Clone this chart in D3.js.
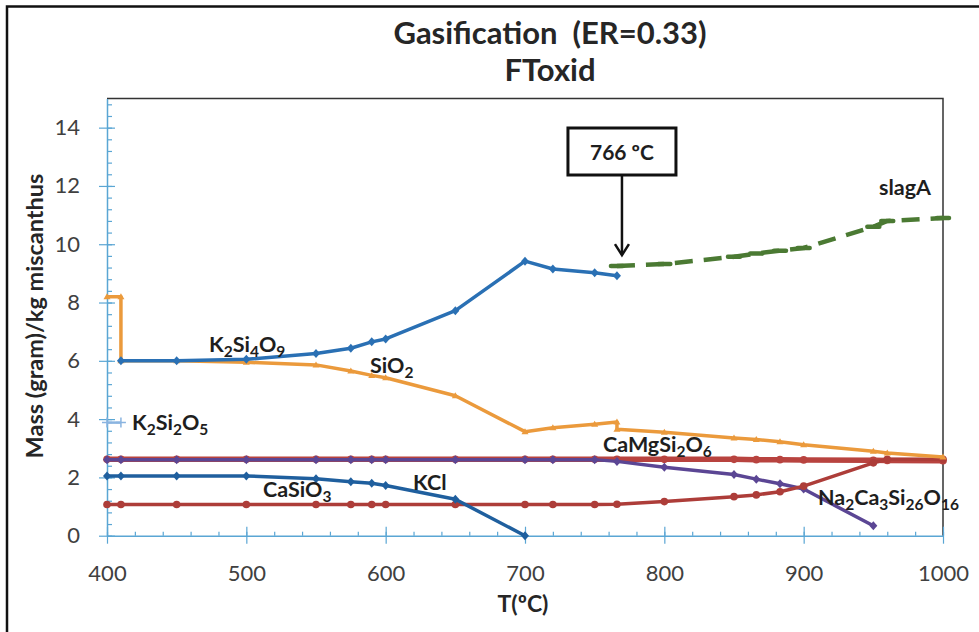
<!DOCTYPE html>
<html><head><meta charset="utf-8">
<script src="https://cdn.jsdelivr.net/npm/d3@7"></script>
<style>
body{margin:0;background:#fff}
text{font-family:Lato,"Open Sans",sans-serif}
</style>
</head><body>
<svg id="c" width="979" height="632"></svg>
<script>
// ---------- data ----------
const xTicks = [400, 500, 600, 700, 800, 900, 1000];
const yTicks = [0, 2, 4, 6, 8, 10, 12, 14];

const tSiO2 = [400, 410, 410, 450, 500, 550, 575, 590, 600, 650, 700, 720, 750, 766, 766, 800, 850, 866, 883, 900, 950, 960, 1000];
const vSiO2 = [8.2, 8.2, 6.0, 6.0, 5.95, 5.86, 5.65, 5.5, 5.42, 4.8, 3.57, 3.7, 3.82, 3.9, 3.65, 3.55, 3.35, 3.3, 3.22, 3.12, 2.9, 2.84, 2.7];

const tK2Si4O9 = [410, 450, 500, 550, 575, 590, 600, 650, 700, 720, 750, 766];
const vK2Si4O9 = [6.0, 6.0, 6.05, 6.25, 6.43, 6.65, 6.75, 7.72, 9.42, 9.15, 9.02, 8.92];

const tSlagA = [766, 800, 850, 866, 883, 900, 950, 960, 1000];
const vSlagA = [9.25, 9.32, 9.57, 9.68, 9.78, 9.87, 10.6, 10.8, 10.9];

const tK2Si2O5 = [400, 410];
const vK2Si2O5 = [3.88, 3.88];

const tCaMgSi2O6 = [400, 410, 450, 500, 550, 575, 590, 600, 650, 700, 720, 750, 766, 800, 850, 866, 883, 900, 950, 960, 1000];
const vCaMgSi2O6 = [2.62, 2.62, 2.62, 2.62, 2.62, 2.62, 2.62, 2.62, 2.62, 2.62, 2.62, 2.62, 2.62, 2.62, 2.62, 2.61, 2.61, 2.6, 2.59, 2.58, 2.57];

const tNa2Ca3 = [400, 410, 450, 500, 550, 575, 590, 600, 650, 700, 720, 750, 766, 800, 850, 866, 883, 900, 950];
const vNa2Ca3 = [2.61, 2.61, 2.61, 2.61, 2.61, 2.61, 2.61, 2.61, 2.61, 2.61, 2.61, 2.61, 2.55, 2.35, 2.1, 1.94, 1.78, 1.6, 0.34];

const tKCl = [400, 410, 450, 500, 550, 575, 590, 600, 650, 700];
const vKCl = [2.05, 2.05, 2.05, 2.05, 1.95, 1.85, 1.8, 1.72, 1.25, 0];

const tCaSiO3 = [400, 410, 450, 500, 550, 575, 590, 600, 650, 700, 720, 750, 766, 800, 850, 866, 883, 900, 950, 960, 1000];
const vCaSiO3 = [1.07, 1.07, 1.07, 1.07, 1.07, 1.07, 1.07, 1.07, 1.07, 1.07, 1.07, 1.07, 1.08, 1.17, 1.34, 1.4, 1.51, 1.7, 2.5, 2.62, 2.62];

// ---------- layout ----------
const svg = d3.select("#c");
const W = 979, H = 632;
const L = 107, R = 943, T = 98.5, B = 535.7;
const x = d3.scaleLinear().domain([400, 1000]).range([L, R]);
const y = d3.scaleLinear().domain([0, 15]).range([B, T]);

svg.append("rect").attr("width", W).attr("height", H).attr("fill", "#fff");
// outer frame (left + top)
svg.append("path").attr("d", `M7,${H} V6.5 H${W}`).attr("fill", "none").attr("stroke", "#111").attr("stroke-width", 2.5);

// plot border top + right
svg.append("path").attr("d", `M${L},${T} H${R} V${B}`).attr("fill", "none").attr("stroke", "#333").attr("stroke-width", 1.5);

const axisCol = "#5aa6d4";
// y axis
const yAxis = svg.append("g").attr("transform", `translate(${L},0)`);
yAxis.call(d3.axisLeft(y).tickValues(d3.range(0, 15.01, 0.4)).tickSize(0).tickFormat(""));
yAxis.select(".domain").attr("stroke", axisCol).attr("stroke-width", 1.5);
yAxis.selectAll(".tick line").remove();
yAxis.selectAll(".tick").append("line").attr("x1", 0).attr("x2", 5).attr("stroke", axisCol).attr("stroke-width", 1.2);
const yMaj = svg.append("g").attr("transform", `translate(${L},0)`)
  .call(d3.axisLeft(y).tickValues(yTicks).tickSize(8).tickPadding(19).tickFormat(d3.format("d")));
yMaj.select(".domain").remove();
yMaj.selectAll(".tick line").attr("x2", 8).attr("x1", -8).attr("stroke", axisCol).attr("stroke-width", 1.2);
yMaj.selectAll(".tick text").attr("fill", "#404040").style("font-size", "22px").style("font-family", "Lato");

// x axis
const xAxis = svg.append("g").attr("transform", `translate(0,${B})`);
xAxis.call(d3.axisBottom(x).tickValues(d3.range(400, 1000.1, 20)).tickSize(0).tickFormat(""));
xAxis.select(".domain").attr("stroke", axisCol).attr("stroke-width", 1.5);
xAxis.selectAll(".tick line").remove();
xAxis.selectAll(".tick").append("line").attr("y1", 0).attr("y2", -4).attr("stroke", axisCol).attr("stroke-width", 1.2);
const xMaj = svg.append("g").attr("transform", `translate(0,${B})`)
  .call(d3.axisBottom(x).tickValues(xTicks).tickSize(8).tickPadding(22).tickFormat(d3.format("d")));
xMaj.select(".domain").remove();
xMaj.selectAll(".tick line").attr("y1", -9).attr("y2", 8).attr("stroke", axisCol).attr("stroke-width", 1.2);
xMaj.selectAll(".tick text").attr("fill", "#404040").style("font-size", "22px").style("font-family", "Lato");

// axis titles
svg.append("text").attr("x", 523).attr("y", 612).attr("text-anchor", "middle")
  .style("font-size", "23px").style("font-weight", 700).attr("fill", "#262626").text("T(ºC)");
svg.append("text").attr("transform", `translate(43,316) rotate(-90)`).attr("text-anchor", "middle")
  .style("font-size", "23.5px").style("font-weight", 700).attr("fill", "#262626").text("Mass (gram)/kg miscanthus");

// titles
svg.append("text").attr("x", 550).attr("y", 44).attr("text-anchor", "middle")
  .style("font-size", "31px").style("font-weight", 700).attr("fill", "#262626").attr("xml:space", "preserve").text("Gasification  (ER=0.33)");
svg.append("text").attr("x", 550).attr("y", 81).attr("text-anchor", "middle")
  .style("font-size", "31px").style("font-weight", 700).attr("fill", "#262626").text("FToxid");

// ---------- series ----------
const line = d3.line().x(d => x(d[0])).y(d => y(d[1]));
function series(ts, vs, color, width, opts = {}) {
  const data = ts.map((t, i) => [t, vs[i]]);
  svg.append("path").datum(data).attr("d", line).attr("fill", "none").attr("stroke", color)
    .attr("stroke-width", width).attr("stroke-linejoin", "round")
    .attr("stroke-dasharray", opts.dash || null);
  const m = opts.marker || "diamond";
  const g = svg.append("g");
  data.forEach(d => {
    const cx = x(d[0]), cy = y(d[1]);
    if (m === "diamond") g.append("path").attr("d", `M${cx},${cy-4.5}L${cx+4},${cy}L${cx},${cy+4.5}L${cx-4},${cy}Z`).attr("fill", color);
    else if (m === "circle") g.append("circle").attr("cx", cx).attr("cy", cy).attr("r", 3.8).attr("fill", color);
    else if (m === "tri") g.append("path").attr("d", `M${cx},${cy-3.5}L${cx+3.5},${cy+2.5}L${cx-3.5},${cy+2.5}Z`).attr("fill", color);
    else if (m === "plus") g.append("path").attr("d", `M${cx-5},${cy}H${cx+5}M${cx},${cy-5}V${cy+5}`).attr("stroke", color).attr("stroke-width", 1.5);
    else if (m === "dash") g.append("path").attr("d", `M${cx-6},${cy}H${cx+6}`).attr("stroke", color).attr("stroke-width", 4.5).attr("stroke-linecap", "round");
  });
}

series(tCaMgSi2O6, vCaMgSi2O6, "#b8433f", 5.5, {marker: "circle"});
series(tNa2Ca3, vNa2Ca3, "#5b4694", 3.5, {marker: "diamond"});
series(tCaSiO3, vCaSiO3, "#ad3d39", 3.5, {marker: "circle"});
series(tKCl, vKCl, "#1f5f9e", 3.5, {marker: "diamond"});
series(tSiO2, vSiO2, "#eb9a3c", 3.5, {marker: "tri"});
series(tK2Si4O9, vK2Si4O9, "#2a70b4", 3.5, {marker: "diamond"});
series(tK2Si2O5, vK2Si2O5, "#8ab4e0", 2.5, {marker: "plus"});
series(tSlagA, vSlagA, "#4b7a33", 4.5, {marker: "dash", dash: "18,11"});

// ---------- labels ----------
function chemLabel(tx, ty, parts) {
  const t = svg.append("text").attr("x", tx).attr("y", ty).style("font-size", "21.5px").style("font-weight", 700).attr("fill", "#1e1e1e");
  let sub = false;
  parts.forEach(p => {
    const isSub = typeof p === "number";
    const ts = t.append("tspan").text(String(p));
    if (isSub && !sub) { ts.attr("dy", 5).style("font-size", "15.5px"); sub = true; }
    else if (isSub) { ts.style("font-size", "15.5px"); }
    else if (!isSub && sub) { ts.attr("dy", -5); sub = false; }
  });
}
chemLabel(209, 352, ["K", 2, "Si", 4, "O", 9]);
chemLabel(370, 373, ["SiO", 2]);
chemLabel(132, 430, ["K", 2, "Si", 2, "O", 5]);
chemLabel(603, 452, ["CaMgSi", 2, "O", 6]);
chemLabel(263, 497, ["CaSiO", 3]);
chemLabel(413, 490, ["KCl"]);
chemLabel(818, 505, ["Na", 2, "Ca", 3, "Si", 26, "O", 16]);
chemLabel(879, 195, ["slagA"]);

// ---------- annotation ----------
const ax = x(766) + 5;
svg.append("rect").attr("x", ax - 54).attr("y", 128).attr("width", 108).attr("height", 47)
  .attr("fill", "#fff").attr("stroke", "#111").attr("stroke-width", 3);
svg.append("text").attr("x", ax).attr("y", 160).attr("text-anchor", "middle")
  .style("font-size", "21px").style("font-weight", 700).attr("fill", "#1e1e1e").text("766 ºC");
svg.append("path").attr("d", `M${ax},175 V${y(9.25) - 11}`).attr("stroke", "#111").attr("stroke-width", 2.5);
svg.append("path").attr("d", `M${ax - 7},${y(9.25) - 22} L${ax},${y(9.25) - 11} L${ax + 7},${y(9.25) - 22}`)
  .attr("fill", "none").attr("stroke", "#111").attr("stroke-width", 2.5);
</script>
</body></html>
